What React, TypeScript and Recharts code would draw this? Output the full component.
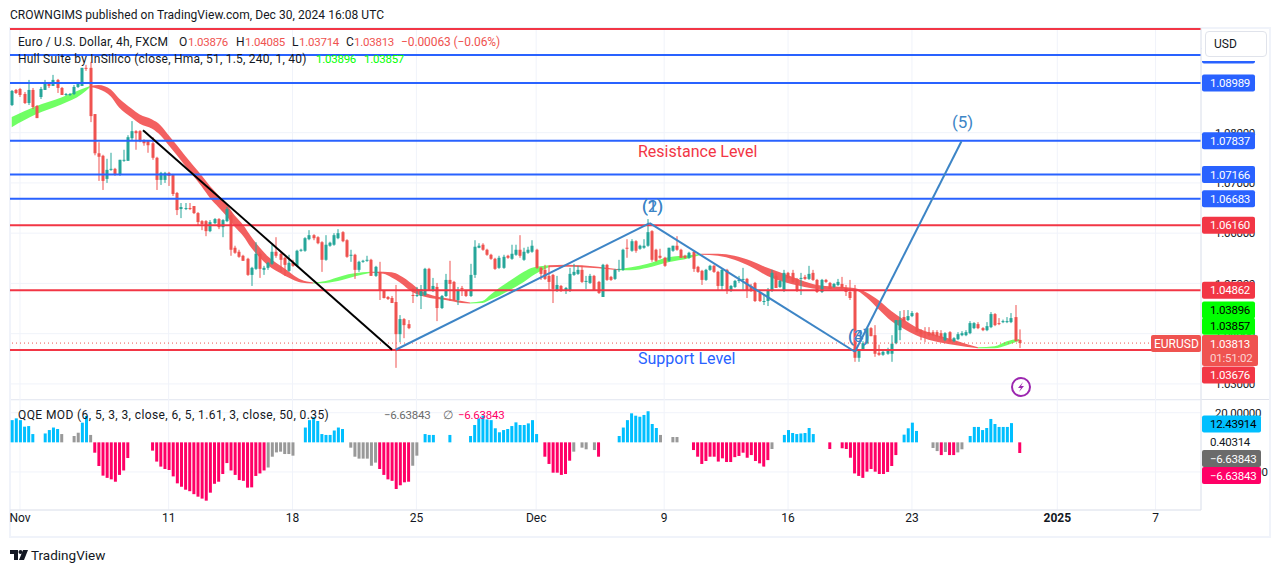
import React from "react";
import { Area, Bar, CartesianGrid, Cell, ComposedChart, ReferenceLine, XAxis, YAxis } from "recharts";

// Candles in order, [open, high, low, close], 4h bars; the first one is bar -2.
const candles: number[][] = [
[1.0855,1.0885,1.0853,1.0883],[1.0885,1.0887,1.0877,1.0879],[1.0887,1.0889,1.0871,1.0875],[1.0877,1.0881,1.0857,1.0859],[1.0859,1.0905,1.0855,1.0885],
[1.0885,1.0889,1.0847,1.0851],[1.0853,1.0855,1.0829,1.0829],[1.0871,1.0891,1.0867,1.0887],[1.0885,1.0905,1.0885,1.0899],[1.0899,1.0901,1.0889,1.0893],
[1.0893,1.0915,1.0893,1.0905],[1.0905,1.0907,1.0879,1.0889],[1.0889,1.0891,1.0875,1.0875],[1.0875,1.0879,1.0873,1.0877],[1.0875,1.0879,1.0873,1.0877],
[1.0877,1.0895,1.0875,1.0891],[1.0891,1.0899,1.0889,1.0897],[1.0893,1.0929,1.0893,1.0929],[1.0929,1.0935,1.0923,1.0927],[1.0929,1.0941,1.0821,1.0833],
[1.0837,1.0837,1.0755,1.0759],[1.0759,1.0781,1.0704,1.0752],[1.0754,1.0756,1.0686,1.0704],[1.0708,1.0748,1.0700,1.0726],[1.0726,1.0760,1.0724,1.0728],
[1.0728,1.0730,1.0714,1.0716],[1.0716,1.0746,1.0714,1.0746],[1.0744,1.0766,1.0742,1.0746],[1.0744,1.0795,1.0744,1.0791],[1.0789,1.0823,1.0785,1.0803],
[1.0803,1.0805,1.0766,1.0799],[1.0803,1.0805,1.0781,1.0783],[1.0785,1.0787,1.0774,1.0779],[1.0783,1.0785,1.0760,1.0775],[1.0779,1.0791,1.0746,1.0750],
[1.0750,1.0752,1.0686,1.0706],[1.0706,1.0722,1.0696,1.0720],[1.0706,1.0722,1.0700,1.0720],[1.0720,1.0722,1.0694,1.0714],[1.0716,1.0718,1.0674,1.0678],
[1.0680,1.0682,1.0636,1.0646],[1.0648,1.0660,1.0630,1.0652],[1.0648,1.0660,1.0646,1.0650],[1.0650,1.0660,1.0646,1.0648],[1.0654,1.0654,1.0638,1.0640],
[1.0640,1.0642,1.0616,1.0622],[1.0624,1.0626,1.0606,1.0618],[1.0624,1.0626,1.0594,1.0604],[1.0604,1.0626,1.0602,1.0622],[1.0620,1.0630,1.0618,1.0628],
[1.0628,1.0630,1.0608,1.0612],[1.0612,1.0628,1.0592,1.0626],[1.0624,1.0652,1.0622,1.0648],[1.0636,1.0642,1.0555,1.0567],[1.0571,1.0575,1.0559,1.0561],
[1.0563,1.0567,1.0551,1.0553],[1.0555,1.0557,1.0545,1.0545],[1.0549,1.0551,1.0515,1.0517],[1.0517,1.0533,1.0495,1.0531],[1.0529,1.0582,1.0527,1.0559],
[1.0559,1.0563,1.0511,1.0529],[1.0527,1.0535,1.0517,1.0531],[1.0531,1.0543,1.0527,1.0541],[1.0539,1.0577,1.0537,1.0563],[1.0563,1.0592,1.0551,1.0555],
[1.0559,1.0561,1.0523,1.0547],[1.0551,1.0553,1.0515,1.0537],[1.0525,1.0557,1.0523,1.0541],[1.0541,1.0547,1.0533,1.0535],[1.0535,1.0567,1.0533,1.0565],
[1.0565,1.0569,1.0563,1.0567],[1.0565,1.0592,1.0563,1.0590],[1.0588,1.0606,1.0586,1.0596],[1.0596,1.0598,1.0586,1.0590],[1.0592,1.0594,1.0578,1.0580],
[1.0582,1.0584,1.0523,1.0547],[1.0547,1.0596,1.0545,1.0577],[1.0575,1.0583,1.0573,1.0581],[1.0577,1.0600,1.0575,1.0596],[1.0590,1.0608,1.0588,1.0600],
[1.0602,1.0604,1.0582,1.0584],[1.0586,1.0588,1.0551,1.0553],[1.0555,1.0567,1.0543,1.0557],[1.0557,1.0559,1.0509,1.0527],[1.0527,1.0545,1.0523,1.0543],
[1.0543,1.0547,1.0541,1.0545],[1.0545,1.0555,1.0543,1.0547],[1.0547,1.0549,1.0515,1.0515],[1.0515,1.0535,1.0513,1.0533],[1.0523,1.0543,1.0467,1.0487],
[1.0485,1.0487,1.0470,1.0471],[1.0473,1.0475,1.0467,1.0469],[1.0471,1.0475,1.0461,1.0461],[1.0463,1.0497,1.0332,1.0399],[1.0399,1.0437,1.0383,1.0429],
[1.0429,1.0431,1.0391,1.0417],[1.0419,1.0427,1.0409,1.0411],[1.0477,1.0491,1.0461,1.0475],[1.0475,1.0493,1.0473,1.0477],[1.0475,1.0497,1.0449,1.0489],
[1.0477,1.0531,1.0475,1.0529],[1.0529,1.0531,1.0485,1.0487],[1.0485,1.0511,1.0483,1.0495],[1.0493,1.0501,1.0425,1.0451],[1.0451,1.0477,1.0449,1.0475],
[1.0475,1.0519,1.0473,1.0507],[1.0507,1.0545,1.0465,1.0499],[1.0503,1.0505,1.0465,1.0467],[1.0467,1.0493,1.0457,1.0487],[1.0491,1.0495,1.0475,1.0489],
[1.0485,1.0487,1.0473,1.0475],[1.0475,1.0539,1.0473,1.0517],[1.0517,1.0586,1.0511,1.0573],[1.0571,1.0580,1.0570,1.0575],[1.0577,1.0580,1.0565,1.0567],
[1.0567,1.0569,1.0555,1.0557],[1.0557,1.0559,1.0547,1.0549],[1.0549,1.0551,1.0527,1.0529],[1.0531,1.0555,1.0529,1.0551],[1.0531,1.0557,1.0529,1.0553],
[1.0555,1.0557,1.0549,1.0551],[1.0549,1.0577,1.0547,1.0559],[1.0557,1.0577,1.0555,1.0567],[1.0567,1.0596,1.0551,1.0555],[1.0547,1.0571,1.0545,1.0563],
[1.0561,1.0573,1.0559,1.0567],[1.0563,1.0586,1.0561,1.0575],[1.0567,1.0569,1.0529,1.0531],[1.0531,1.0533,1.0507,1.0519],[1.0527,1.0537,1.0507,1.0509],
[1.0515,1.0535,1.0487,1.0503],[1.0517,1.0519,1.0461,1.0489],[1.0485,1.0515,1.0483,1.0497],[1.0495,1.0497,1.0483,1.0485],[1.0485,1.0493,1.0479,1.0491],
[1.0485,1.0531,1.0483,1.0519],[1.0517,1.0539,1.0515,1.0523],[1.0519,1.0535,1.0517,1.0527],[1.0527,1.0535,1.0501,1.0503],[1.0503,1.0515,1.0489,1.0505],
[1.0501,1.0519,1.0499,1.0515],[1.0515,1.0517,1.0487,1.0487],[1.0503,1.0505,1.0479,1.0481],[1.0473,1.0539,1.0473,1.0537],[1.0537,1.0539,1.0505,1.0507],
[1.0513,1.0515,1.0505,1.0507],[1.0509,1.0529,1.0507,1.0527],[1.0527,1.0547,1.0523,1.0529],[1.0527,1.0569,1.0525,1.0567],[1.0571,1.0588,1.0551,1.0569],
[1.0565,1.0588,1.0563,1.0584],[1.0584,1.0586,1.0561,1.0565],[1.0569,1.0577,1.0567,1.0575],[1.0571,1.0588,1.0569,1.0575],[1.0575,1.0628,1.0573,1.0602],
[1.0604,1.0606,1.0543,1.0547],[1.0567,1.0569,1.0543,1.0545],[1.0555,1.0569,1.0549,1.0551],[1.0551,1.0553,1.0533,1.0535],[1.0545,1.0571,1.0543,1.0571],
[1.0565,1.0575,1.0563,1.0575],[1.0575,1.0594,1.0565,1.0567],[1.0567,1.0569,1.0551,1.0551],[1.0555,1.0557,1.0549,1.0551],[1.0551,1.0563,1.0549,1.0561],
[1.0563,1.0565,1.0523,1.0529],[1.0533,1.0535,1.0521,1.0523],[1.0525,1.0527,1.0497,1.0507],[1.0507,1.0529,1.0505,1.0527],[1.0527,1.0537,1.0525,1.0535],
[1.0535,1.0537,1.0521,1.0523],[1.0523,1.0525,1.0487,1.0495],[1.0495,1.0529,1.0487,1.0527],[1.0527,1.0529,1.0479,1.0485],[1.0485,1.0497,1.0483,1.0495],
[1.0493,1.0507,1.0491,1.0505],[1.0505,1.0515,1.0501,1.0507],[1.0507,1.0531,1.0487,1.0509],[1.0509,1.0511,1.0471,1.0485],[1.0495,1.0499,1.0483,1.0485],
[1.0501,1.0503,1.0463,1.0465],[1.0481,1.0483,1.0463,1.0465],[1.0463,1.0477,1.0457,1.0465],[1.0465,1.0491,1.0455,1.0487],[1.0485,1.0527,1.0483,1.0521],
[1.0515,1.0521,1.0491,1.0491],[1.0493,1.0507,1.0491,1.0505],[1.0485,1.0527,1.0483,1.0521],[1.0521,1.0523,1.0509,1.0511],[1.0521,1.0527,1.0501,1.0503],
[1.0509,1.0511,1.0483,1.0485],[1.0509,1.0521,1.0477,1.0511],[1.0513,1.0517,1.0507,1.0509],[1.0509,1.0535,1.0507,1.0519],[1.0521,1.0527,1.0505,1.0507],
[1.0507,1.0509,1.0481,1.0483],[1.0483,1.0509,1.0481,1.0507],[1.0507,1.0509,1.0501,1.0503],[1.0501,1.0503,1.0489,1.0489],[1.0493,1.0501,1.0491,1.0499],
[1.0497,1.0509,1.0495,1.0503],[1.0499,1.0513,1.0489,1.0491],[1.0491,1.0497,1.0475,1.0483],[1.0483,1.0507,1.0467,1.0471],[1.0487,1.0497,1.0344,1.0352],
[1.0352,1.0368,1.0344,1.0368],[1.0368,1.0385,1.0366,1.0381],[1.0381,1.0411,1.0379,1.0411],[1.0411,1.0413,1.0395,1.0395],[1.0397,1.0417,1.0354,1.0360],
[1.0362,1.0378,1.0356,1.0358],[1.0358,1.0366,1.0356,1.0364],[1.0360,1.0372,1.0358,1.0368],[1.0360,1.0397,1.0344,1.0380],[1.0381,1.0427,1.0379,1.0427],
[1.0407,1.0445,1.0387,1.0427],[1.0433,1.0447,1.0423,1.0425],[1.0427,1.0447,1.0425,1.0435],[1.0435,1.0445,1.0433,1.0441],[1.0441,1.0443,1.0403,1.0403],
[1.0407,1.0409,1.0387,1.0399],[1.0403,1.0413,1.0383,1.0401],[1.0403,1.0413,1.0395,1.0397],[1.0403,1.0407,1.0395,1.0397],[1.0403,1.0407,1.0393,1.0395],
[1.0401,1.0407,1.0389,1.0391],[1.0387,1.0403,1.0385,1.0401],[1.0403,1.0405,1.0383,1.0385],[1.0385,1.0393,1.0383,1.0391],[1.0389,1.0403,1.0387,1.0399],
[1.0397,1.0405,1.0395,1.0401],[1.0397,1.0407,1.0395,1.0403],[1.0401,1.0425,1.0399,1.0421],[1.0411,1.0423,1.0409,1.0421],[1.0419,1.0423,1.0409,1.0411],
[1.0411,1.0413,1.0405,1.0407],[1.0407,1.0423,1.0405,1.0415],[1.0413,1.0443,1.0411,1.0439],[1.0439,1.0441,1.0415,1.0417],[1.0421,1.0431,1.0417,1.0419],
[1.0423,1.0428,1.0421,1.0425],[1.0423,1.0433,1.0421,1.0425],[1.0423,1.0441,1.0421,1.0431],[1.0433,1.0457,1.0385,1.0385],[1.03876,1.04085,1.03714,1.03813],
];

// Hull band, [bar, upper, lower], one list per colour run.
const hullGreenA = [[-2,1.0831,1.0811],[4,1.0853,1.0837],[10,1.087,1.0856],[15,1.0887,1.0877],[17,1.0893,1.0891]];
const hullRedA = [[17,1.0893,1.0891],[19,1.0895,1.0887],[22,1.0886,1.0872],[24,1.0868,1.085],[27,1.0848,1.083],[29,1.0836,1.0818],[32,1.0826,1.0808],[34,1.0815,1.0795],[36,1.0795,1.0775],[38,1.0775,1.0755],[40,1.0754,1.0734],[42,1.0734,1.0714],[44,1.0715,1.0693],[46,1.0694,1.067],[48,1.0676,1.0652],[50,1.0658,1.0634],[52,1.0635,1.0613],[54,1.0617,1.0595],[56,1.0593,1.0571],[58,1.0572,1.0552],[60,1.0554,1.0536],[62,1.0541,1.0525],[64,1.053,1.0516],[66,1.0518,1.0508],[68,1.0508,1.0502],[71,1.0502,1.05]];
const hullGreenB = [[71,1.0502,1.05],[74,1.0505,1.0501],[78,1.0515,1.0507],[81,1.052,1.0514],[85,1.0523,1.0521]];
const hullRedB = [[85,1.0523,1.0521],[88,1.0523,1.0519],[90,1.0522,1.0512],[92,1.0516,1.0502],[95,1.0499,1.0483],[97,1.0486,1.0476],[100,1.0476,1.047],[103,1.0471,1.0467],[107,1.0465,1.0461],[109,1.0462,1.046]];
const hullGreenC = [[109,1.0462,1.046],[112,1.0465,1.0461],[114,1.0478,1.0468],[116,1.0491,1.0475],[118,1.0502,1.0484],[120,1.0513,1.0493],[122,1.0523,1.0503],[124,1.0531,1.0515],[126,1.0534,1.0524],[128,1.0536,1.0532]];
const hullRedC = [[128,1.0536,1.0532],[132,1.0537,1.0533],[140,1.0533,1.053],[145,1.0528,1.0526]];
const hullGreenD = [[145,1.0528,1.0526],[148,1.0532,1.0526],[152,1.0539,1.0531],[157,1.0552,1.0542],[162,1.0556,1.055],[165,1.0559,1.0557]];
const hullRedD = [[165,1.0559,1.0557],[169,1.0559,1.0555],[173,1.0555,1.0547],[177,1.0545,1.0533],[181,1.0531,1.0515],[185,1.0519,1.0503],[189,1.0507,1.0495],[193,1.0497,1.0489],[197,1.0494,1.0488],[202,1.0491,1.0487],[205,1.0482,1.0472],[208,1.0466,1.0448],[211,1.0445,1.0425],[214,1.0428,1.041],[217,1.0413,1.0397],[221,1.04,1.0386],[226,1.0388,1.0378],[229,1.038,1.0374],[232,1.0373,1.0371]];
const hullGreenE = [[232,1.0373,1.0371],[236,1.0375,1.0371],[239,1.0385,1.0377],[242,1.03896,1.03857]];
const hullRuns = [hullGreenA, hullRedA, hullGreenB, hullRedB, hullGreenC, hullRedC, hullGreenD, hullRedD, hullGreenE];

// QQE histogram, [bar, value] by colour.
const qqeBlue = [[-2,15],[-1,16.2],[0,15],[1,10.6],[2,11],[3,5.6],[6,6],[7,8.3],[8,10],[9,9],[15,13.3],[16,17.8],[69,10],[70,15],[71,17],[72,14.4],[73,5.6],[74,5],[75,5],[76,8],[77,10],[78,9],[98,5.6],[99,5],[100,5],[104,5],[109,4.3],[110,11.7],[111,16.2],[112,18],[113,15.5],[114,15],[115,9.5],[116,6.8],[117,8.3],[118,9],[119,11],[120,13.5],[121,11.7],[122,11.7],[123,12.8],[124,15],[125,5.6],[145,4.3],[146,10],[147,15],[148,19.6],[149,18],[150,17.3],[151,18.5],[152,21],[153,12.4],[154,9.7],[185,5],[186,8.3],[187,6.3],[188,5.6],[189,6],[190,6.3],[191,9.7],[192,5.6],[214,5.2],[215,9.5],[216,13.3],[217,7.7],[230,4.3],[231,10.4],[232,10.4],[233,8.3],[234,9.7],[235,15.8],[236,12.4],[237,10.4],[238,10.4],[239,10.4],[240,13]];
const qqeGray = [[10,5.6],[13,4.3],[14,6.5],[17,5],[60,-17],[61,-9.7],[62,-6.8],[63,-6.3],[64,-7.9],[65,-7.9],[66,-9],[80,-3.6],[81,-9.7],[82,-11],[83,-11],[84,-11],[85,-15.8],[86,-13.7],[95,-15.8],[96,-9],[134,-6.3],[136,-3.6],[137,-4.7],[139,-5.2],[155,5],[158,3.6],[159,3.6],[182,-4.5],[221,-3.8],[222,-5.9],[224,-6.5],[227,-6.8],[228,-4.7]];
const qqePink = [[18,-7],[19,-16],[20,-22.5],[21,-24],[22,-25],[23,-26.6],[24,-22],[25,-19],[26,-10.6],[32,-5.6],[33,-13],[34,-16.4],[35,-18],[36,-18.7],[37,-23],[38,-27.7],[39,-30],[40,-32],[41,-33],[42,-35],[43,-36.7],[44,-38],[45,-39.4],[46,-34],[47,-28],[48,-26.6],[49,-21.4],[50,-14],[51,-19],[52,-22],[53,-25.5],[54,-26],[55,-30.6],[56,-30.4],[57,-22.7],[58,-21],[59,-19],[87,-18],[88,-22],[89,-25],[90,-26],[91,-31.5],[92,-29],[93,-27],[94,-26.6],[127,-9.7],[128,-14.6],[129,-20.5],[130,-20.5],[131,-22],[132,-21.4],[133,-12.4],[140,-9.7],[163,-5.2],[164,-9.7],[165,-14.6],[166,-12.6],[167,-9.7],[168,-9.7],[169,-13],[170,-10.8],[171,-13.3],[172,-13.3],[173,-10],[174,-9.2],[175,-7],[176,-10.4],[177,-8.6],[178,-12.6],[179,-14.2],[180,-16.4],[181,-12],[196,-4.5],[199,-4],[200,-4.5],[201,-10.4],[202,-21],[203,-22.7],[204,-24],[205,-19.8],[206,-18],[207,-19.8],[208,-21.4],[209,-21.4],[210,-20],[211,-16],[212,-8.6],[223,-8.6],[225,-8.6],[226,-8.6],[242,-7.2]];

const timeTicks = [0, 36, 66, 96, 125, 156, 186, 216, 251.2, 275];
const timeLabels = ["Nov", "11", "18", "25", "Dec", "9", "16", "23", "2025", "7"];
const priceTicks = [1.09, 1.08, 1.07, 1.06, 1.05, 1.04, 1.03];
const qqeTicks = [20, -20];

const blueLevels = [1.09545, 1.08989, 1.07837, 1.07166, 1.06683];
const redLevels = [1.10063, 1.0616, 1.04862, 1.03676];
const hullValues = [1.03896, 1.03857];
const lastClose = 1.03813;
const lastCountdown = "01:51:02";
const qqeValueBlue = 12.43914;
const qqeValueZero = 0.40314;
const qqeValueLast = -6.63843;
const blackTrend = [[29.8, 1.0805], [90.1, 1.0368]];
const waveTrend = [[91, 1.0368], [152.5, 1.062], [202.2, 1.0364], [228, 1.0783]];

const RED = "#f23645", BLUE = "#2962ff", UP = "#26a69a", DOWN = "#ef5350", GRID = "#f0f3fa", AXIS = "#e0e3eb", INK = "#131722", WAVE = "#3d85c6", LIME = "#00ff00";
const FONT = "Roboto, 'Noto Sans', sans-serif";
const NUM = { fontSize: 11.5, letterSpacing: -0.25 };
const X_DOMAIN: [number, number] = [-2.42, 286];
const PRICE_DOMAIN: [number, number] = [1.0268, 1.10083];
const QQE_DOMAIN: [number, number] = [-45.7, 28.6];
const plotWidth = 1191, axisWidth = 69;
const flat = { top: 0, right: 0, bottom: 0, left: 0 };

const rows: any[] = candles.map((c, n) => ({ i: n - 2, range: [c[2], c[1]], open: c[0], close: c[3] }));
hullRuns.forEach((run, s) => run.forEach(([i, a, b]) => { rows[i + 2]["h" + s] = [b, a]; }));

const qqeRows = [
  ...qqeBlue.map(([i, v]) => ({ i, v, fill: "#00bfff" })),
  ...qqeGray.map(([i, v]) => ({ i, v, fill: "#999999" })),
  ...qqePink.map(([i, v]) => ({ i, v, fill: "#ff0066" })),
].sort((a, b) => a.i - b.i);

function Candle(props: any) {
  const { x, y, width, height, payload } = props;
  const [l, h] = payload.range;
  const H = Math.abs(height);
  const cx = Math.round(x + width / 2);
  const at = (p: number) => y + ((h - p) / (h - l)) * H;
  const top = at(Math.max(payload.open, payload.close));
  const bottom = at(Math.min(payload.open, payload.close));
  const color = payload.close >= payload.open ? UP : DOWN;
  return (
    <g>
      <rect x={cx - 0.5} y={y} width={1} height={H} fill={color} />
      <rect x={cx - 1.5} y={top} width={3} height={Math.max(bottom - top, 1)} fill={color} />
    </g>
  );
}

function Tag(props: any) {
  const { viewBox, text, fill, color = "#fff", shift = 0, w = 53, h = 17, sub } = props;
  const x = viewBox.x + viewBox.width + 1;
  const cy = viewBox.y + shift;
  return (
    <g fontFamily={FONT} style={NUM}>
      {fill ? <rect x={x} y={cy - h / 2} width={w} height={h} rx={2} fill={fill} /> : null}
      <text x={x + 8} y={sub ? cy - h / 2 + 13 : cy + 4} fill={color}>{text}</text>
      {sub ? <text x={x + 8} y={cy - h / 2 + 27} fill="#ffffff" fillOpacity={0.75}>{sub}</text> : null}
    </g>
  );
}

function SymbolTag(props: any) {
  const { viewBox, text } = props;
  const right = viewBox.x + viewBox.width;
  return (
    <g fontFamily={FONT} fontSize={12}>
      <rect x={right - 50} y={viewBox.y - 8} width={50} height={17} rx={2} fill={DOWN} />
      <text x={right - 47} y={viewBox.y + 4.5} fill="#fff">{text}</text>
      <Tag viewBox={{ ...viewBox, y: viewBox.y + 7.5 }} text={lastClose.toFixed(5)} sub={lastCountdown} fill={DOWN} w={56} h={31} />
    </g>
  );
}

function TimeTick(props: any) {
  const { x, y, payload } = props;
  const label = timeLabels[timeTicks.indexOf(payload.value)];
  return (
    <text x={x} y={y + 4} textAnchor="middle" fontFamily={FONT} fontSize={12} fontWeight={label === "2025" ? 700 : 400} fill={INK}>
      {label}
    </text>
  );
}

const Txt = ({ x, y, c = INK, s = 12, children, w, ls, num }: any) => (
  <div style={{ position: "absolute", left: x, top: y - 10, height: 20, lineHeight: "20px", fontFamily: FONT, fontSize: num ? NUM.fontSize : s, letterSpacing: num ? NUM.letterSpacing : ls, color: c, whiteSpace: "nowrap", fontWeight: w }}>{children}</div>
);

const hullColor = (s: number) => (s % 2 === 0 ? "#33ff22" : "#ee1c1c");
const axisTick = { fill: INK, fontFamily: FONT, ...NUM };

export default function App() {
  const pane = { width: plotWidth + axisWidth, margin: flat };
  const hiddenY = { orientation: "right" as const, width: axisWidth, allowDataOverflow: true, tick: false, tickLine: false, axisLine: false };
  return (
    <div style={{ position: "absolute", left: 0, top: 0, width: 1281, height: 573, background: "#fff", overflow: "hidden" }}>
      <div style={{ position: "absolute", left: 9, top: 27, width: 1262, height: 511, border: `2px solid ${GRID}`, boxSizing: "border-box" }} />
      <div style={{ position: "absolute", left: 11, top: 399, width: 1258, height: 1, background: AXIS }} />

      <div style={{ position: "absolute", left: 10, top: 28 }}>
        <ComposedChart {...pane} height={372} data={rows}>
          <CartesianGrid stroke={GRID} />
          <XAxis dataKey="i" type="number" domain={X_DOMAIN} allowDataOverflow ticks={timeTicks} interval={0} hide />
          <YAxis orientation="right" width={axisWidth} domain={PRICE_DOMAIN} allowDataOverflow ticks={priceTicks} interval={0} tickFormatter={(v: number) => v.toFixed(5)} tick={axisTick} tickLine={false} axisLine={{ stroke: AXIS }} tickMargin={8} />
          <Bar dataKey="range" barSize={3} isAnimationActive={false} shape={Candle} />
          {hullRuns.map((_, s) => (
            <Area key={s} dataKey={"h" + s} type="monotone" connectNulls stroke="none" fill={hullColor(s)} fillOpacity={0.7} dot={false} activeDot={false} isAnimationActive={false} />
          ))}
          <ReferenceLine y={lastClose} stroke={DOWN} strokeDasharray="1 3" />
          {blueLevels.map((v) => <ReferenceLine key={v} y={v} stroke={BLUE} strokeWidth={2} />)}
          {redLevels.map((v) => <ReferenceLine key={v} y={v} stroke={RED} strokeWidth={2} />)}
          <ReferenceLine segment={[{ x: blackTrend[0][0], y: blackTrend[0][1] }, { x: blackTrend[1][0], y: blackTrend[1][1] }]} stroke="#000" strokeWidth={2} />
          {waveTrend.slice(1).map((p, n) => (
            <ReferenceLine key={n} segment={[{ x: waveTrend[n][0], y: waveTrend[n][1] }, { x: p[0], y: p[1] }]} stroke={WAVE} strokeWidth={2} />
          ))}
        </ComposedChart>
      </div>

      <div style={{ position: "absolute", left: 10, top: 400 }}>
        <ComposedChart {...pane} height={137} data={qqeRows}>
          <CartesianGrid stroke={GRID} />
          <XAxis dataKey="i" type="number" domain={X_DOMAIN} allowDataOverflow ticks={timeTicks} interval={0} height={27} tick={TimeTick} tickLine={false} axisLine={{ stroke: AXIS }} />
          <YAxis orientation="right" width={axisWidth} domain={QQE_DOMAIN} allowDataOverflow ticks={qqeTicks} interval={0} tickFormatter={(v: number) => v.toFixed(5).replace("-", "\u2212")} tick={axisTick} tickLine={false} axisLine={{ stroke: AXIS }} tickMargin={8} />
          <Bar dataKey="v" barSize={3} isAnimationActive={false}>
            {qqeRows.map((r, n) => <Cell key={n} fill={r.fill} />)}
          </Bar>
        </ComposedChart>
      </div>

      <div style={{ position: "absolute", left: 10, top: 28 }}>
        <ComposedChart {...pane} height={372} data={rows}>
          <XAxis dataKey="i" type="number" domain={X_DOMAIN} allowDataOverflow hide />
          <YAxis {...hiddenY} domain={PRICE_DOMAIN} />
          {blueLevels.map((v) => <ReferenceLine key={v} y={v} stroke="none" label={<Tag text={v.toFixed(5)} fill={BLUE} />} />)}
          {redLevels.slice(1).map((v) => <ReferenceLine key={v} y={v} stroke="none" label={<Tag text={v.toFixed(5)} fill={RED} shift={v === 1.03676 ? 25 : 0} />} />)}
          <ReferenceLine y={hullValues[0]} stroke="none" label={<Tag text={hullValues[0].toFixed(5)} fill={LIME} color="#000" shift={-29} />} />
          <ReferenceLine y={hullValues[1]} stroke="none" label={<Tag text={hullValues[1].toFixed(5)} fill={LIME} color="#000" shift={-14.5} />} />
          <ReferenceLine y={lastClose} stroke="none" label={<SymbolTag text="EURUSD" />} />
        </ComposedChart>
      </div>

      <div style={{ position: "absolute", left: 10, top: 400 }}>
        <ComposedChart {...pane} height={137} data={qqeRows}>
          <XAxis dataKey="i" type="number" domain={X_DOMAIN} allowDataOverflow height={27} tick={false} tickLine={false} axisLine={false} />
          <YAxis {...hiddenY} domain={QQE_DOMAIN} />
          <ReferenceLine y={qqeValueBlue} stroke="none" label={<Tag text={qqeValueBlue.toFixed(5)} fill="#00bfff" color="#000" w={59} />} />
          <ReferenceLine y={qqeValueZero} stroke="none" label={<Tag text={qqeValueZero.toFixed(5)} color={INK} />} />
          <ReferenceLine y={qqeValueLast} stroke="none" label={<Tag text={"\u2212" + Math.abs(qqeValueLast).toFixed(5)} fill="#6b6b6b" w={59} shift={6.4} />} />
          <ReferenceLine y={qqeValueLast} stroke="none" label={<Tag text={"\u2212" + Math.abs(qqeValueLast).toFixed(5)} fill="#ff0066" w={59} shift={23.4} />} />
        </ComposedChart>
      </div>

      <div style={{ position: "absolute", left: 1202, top: 30, width: 67, height: 31, background: "#fff" }} />
      <div style={{ position: "absolute", left: 1205, top: 31, width: 62, height: 26, border: `1px solid ${AXIS}`, borderRadius: 4, boxSizing: "border-box", background: "#fff" }} />
      <Txt x={1214} y={44}>USD</Txt>

      <Txt x={10} y={15} ls={0.05}>CROWNGIMS published on TradingView.com, Dec 30, 2024 16:08 UTC</Txt>
      <Txt x={18} y={42} ls={0.15}>Euro / U.S. Dollar, 4h, FXCM</Txt>
      <Txt x={179} y={42}>O</Txt><Txt x={188} y={42} c={DOWN} num>1.03876</Txt>
      <Txt x={236} y={42}>H</Txt><Txt x={245} y={42} c={DOWN} num>1.04085</Txt>
      <Txt x={292} y={42}>L</Txt><Txt x={299} y={42} c={DOWN} num>1.03714</Txt>
      <Txt x={346} y={42}>C</Txt><Txt x={354} y={42} c={DOWN} num>1.03813</Txt>
      <Txt x={401} y={42} c={DOWN} ls={-0.1}>{"\u22120.00063 (\u22120.06%)"}</Txt>
      <Txt x={18} y={59} ls={0.22}>Hull Suite by InSilico (close, Hma, 51, 1.5, 240, 1, 40)</Txt>
      <Txt x={316} y={59} c={LIME} num>1.03896</Txt><Txt x={364} y={59} c={LIME} num>1.03857</Txt>
      <Txt x={18} y={415} ls={0.4}>QQE MOD (6, 5, 3, 3, close, 6, 5, 1.61, 3, close, 50, 0.35)</Txt>
      <Txt x={384} y={415} c="#6b6b6b" num>{"\u22126.63843"}</Txt>
      <Txt x={443} y={415} c="#6b6b6b">{"\u2205"}</Txt>
      <Txt x={458} y={415} c="#ff0066" num>{"\u22126.63843"}</Txt>

      <Txt x={638} y={152} c={RED} s={16}>Resistance Level</Txt>
      <Txt x={638} y={359} c={BLUE} s={16}>Support Level</Txt>
      <Txt x={952} y={122} c={WAVE} s={17}>(5)</Txt>
      <Txt x={642} y={206} c={WAVE} s={17}>(1)</Txt>
      <Txt x={642} y={206} c={WAVE} s={17}>(2)</Txt>
      <Txt x={848} y={336} c={WAVE} s={17}>(3)</Txt>
      <Txt x={848} y={336} c={WAVE} s={17}>(4)</Txt>

      <svg style={{ position: "absolute", left: 1010, top: 376 }} width={22} height={22}>
        <circle cx={11} cy={11} r={9} fill="#fff" stroke="#9c27b0" strokeWidth={2} />
        <path d="M13 6 L8 12 H11 L9 16 L14 10 H11 Z" fill="#9c27b0" />
      </svg>

      <svg style={{ position: "absolute", left: 10, top: 549 }} width={20} height={12}>
        <path d="M0 1 H8 V11 H4 V5 H0 Z" fill={INK} />
        <circle cx={10.5} cy={3} r={2} fill={INK} />
        <path d="M13 1 H18 L14 11 H9 Z" fill={INK} />
      </svg>
      <Txt x={31} y={555} s={13.5}>TradingView</Txt>
    </div>
  );
}
